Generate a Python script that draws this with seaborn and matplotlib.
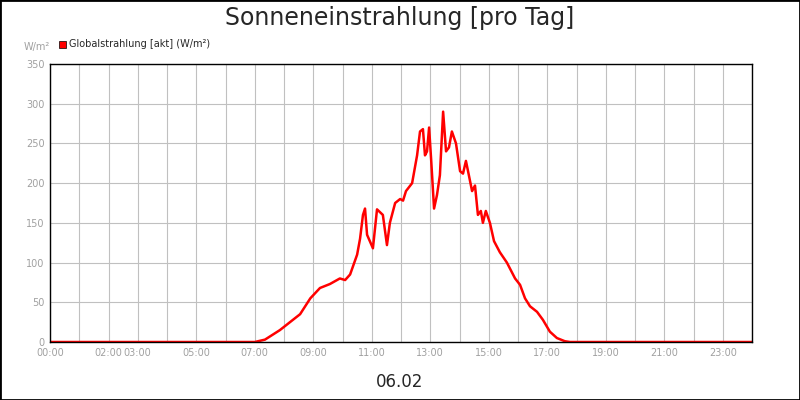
import matplotlib.pyplot as plt
import seaborn as sns
import pandas as pd

hours = [0, 7.0, 7.35, 7.86, 8.55, 8.9, 9.23, 9.57, 9.91, 10.09, 10.26, 10.5, 10.6, 10.7, 10.77,
         10.84, 11.04, 11.18, 11.38, 11.52, 11.62, 11.8, 11.97, 12.07, 12.17, 12.38, 12.55, 12.65,
         12.75, 12.82, 12.89, 12.96, 13.03, 13.13, 13.23, 13.33, 13.44, 13.54, 13.64, 13.74, 13.88,
         14.02, 14.12, 14.22, 14.32, 14.43, 14.53, 14.63, 14.73, 14.8, 14.9, 15.04, 15.18, 15.38,
         15.62, 15.9, 16.07, 16.24, 16.41, 16.65, 16.85, 17.09, 17.33, 17.6, 17.78, 24]
values = [0, 0, 3, 15, 35, 55, 68, 73, 80, 78, 85, 110, 130, 160, 168,
          135, 118, 167, 160, 122, 150, 175, 180, 178, 190, 200, 235, 265,
          268, 235, 240, 270, 230, 168, 185, 210, 290, 240, 245, 265, 250,
          215, 212, 228, 210, 190, 197, 160, 165, 150, 165, 150, 127, 113,
          100, 80, 72, 55, 45, 38, 28, 13, 5, 1, 0, 0]
tick_hours = [0, 2, 3, 5, 7, 9, 11, 13, 15, 17, 19, 21, 23]
tick_labels = [f"{h:02d}:00" for h in tick_hours]

df = pd.DataFrame({"h": hours, "v": values})

sns.set_style("white")
plt.rcParams["font.family"] = ["DejaVu Sans"]
fig = plt.figure(figsize=(8, 4), dpi=100)
ax = fig.add_axes([50 / 800, 58 / 400, 702 / 800, 278 / 400])
sns.lineplot(data=df, x="h", y="v", color="#ff0000", linewidth=1.8, ax=ax)
ax.set_xlim(0, 24)
ax.set_ylim(0, 350)
ax.set_xticks(range(25), minor=False)
ax.set_xticks(range(25))
ax.set_xticklabels([f"{h:02d}:00" if h in tick_hours else "" for h in range(25)])
ax.set_yticks(range(0, 351, 50))
ax.grid(True, color="#c0c0c0", linewidth=0.8)
ax.tick_params(labelsize=7, colors="#a0a0a0", length=0, pad=4)
for s in ax.spines.values():
    s.set_color("black")
    s.set_linewidth(1)
ax.set_xlabel("")
ax.set_ylabel("")
fig.text(0.5, 0.955, "Sonneneinstrahlung [pro Tag]", ha="center", va="center", fontsize=17)
fig.text(0.5, 0.045, "06.02", ha="center", va="center", fontsize=12)
fig.text(24 / 800, 1 - 47 / 400, "W/m²", fontsize=7, color="#a0a0a0", va="center")
fig.patches.append(plt.Rectangle((59 / 800, 1 - 48 / 400), 7 / 800, 7 / 400, transform=fig.transFigure,
                                 facecolor="#ff0000", edgecolor="black", linewidth=0.5))
fig.text(69 / 800, 1 - 44 / 400, "Globalstrahlung [akt] (W/m²)", fontsize=7, va="center")
fig.patches.append(plt.Rectangle((0, 0), 1, 1, transform=fig.transFigure, fill=False,
                                 edgecolor="black", linewidth=2))
fig.savefig("out.png", dpi=100)
